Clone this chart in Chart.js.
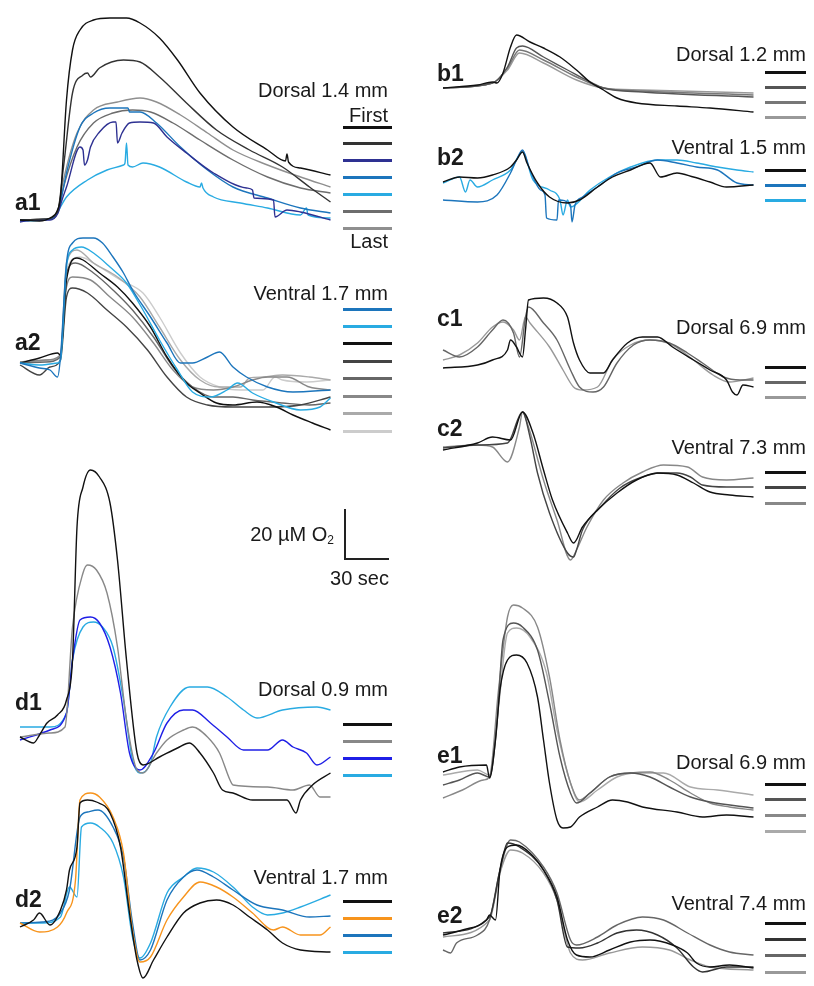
<!DOCTYPE html>
<html>
<head>
<meta charset="utf-8">
<script src="https://cdn.jsdelivr.net/npm/chart.js@4"></script>
<style>
  body { margin: 0; background: #fff; }
  #fig { position: relative; width: 814px; height: 986px; overflow: hidden; background: #fff; }
  #fig canvas { position: absolute; }
  .t { position: absolute; transform: translateY(-50%); font-family: 'Liberation Sans', Arial, sans-serif; color: #1a1a1a; white-space: nowrap; line-height: 1; }
  .t sub { font-size: 60%; vertical-align: -0.25em; }
  .k { position: absolute; height: 3px; }
  .bar { position: absolute; background: #222; }
</style>
</head>
<body>
<div id="fig"></div>
<script>
// O2 traces: [time (s), O2 change (µM)]
const PXX = 1.5   // px per second
const PXY = 2.5   // px per µM

// a1 - Dorsal 1.4 mm
const a1T1 = [[0,0],[13,-0.4],[20,0.8],[25,4],[27,9.2],[31,48],[35,68],[40,76],[49,80],[60,80.8],[71,80.8],[80,78.8],[93,72.8],[105,64],[120,50.8],[142,37.2],[165,28],[177,23.6],[178,26.4],[179,23.2],[187,20.8],[207,18]]
const a1T2 = [[0,0],[17,0.4],[25,3.2],[29,21.2],[35,50.8],[42,58],[45,58.8],[47,57.2],[53,60.8],[69,64],[80,63.2],[93,57.2],[111,46.8],[131,36],[153,28],[175,21.2],[193,13.2],[207,7.2]]
const a1T3 = [[0,-0.8],[10,0],[20,0],[25,2.4],[28,8],[31,13.2],[40,29.2],[42,28],[43,22],[45,24],[47,29.2],[53,35.2],[62,39.2],[64,39.2],[65,30.8],[68,34.8],[73,38.8],[80,39.2],[89,38.8],[98,33.2],[111,26.8],[129,18.8],[151,12.8],[155,12],[156,8.8],[169,8],[170,1.2],[178,4],[187,3.2],[207,0]]
const a1T4 = [[0,0],[20,0.4],[25,3.2],[28,10],[31,18.8],[40,37.2],[49,42.8],[60,44.8],[72,44.8],[73,43.2],[80,43.2],[91,38.8],[107,29.2],[125,20],[142,13.2],[165,8.8],[187,4.8],[207,2.8]]
const a1T5 = [[0,-0.4],[20,0.4],[25,2.8],[27,5.2],[31,9.2],[45,16],[58,20],[69,22],[70,22.8],[71,30.8],[72,22],[75,21.2],[82,22.8],[93,21.2],[111,15.2],[120,13.2],[121,14.8],[122,12.8],[129,9.2],[147,6.8],[165,4.8],[187,2],[191,4.8],[192,2],[207,0.8]]
const a1T6 = [[0,0],[20,0.4],[25,2.8],[29,13.2],[38,29.2],[49,38.8],[62,42.8],[75,44],[87,43.2],[102,38.8],[120,32],[142,24],[165,17.2],[187,12.8],[207,10.8]]
const a1T7 = [[0,0],[20,0.4],[25,3.2],[29,16],[38,34.8],[49,44],[65,47.2],[80,48.8],[91,47.2],[107,42],[125,34.8],[142,28],[165,22],[187,17.2],[207,13.2]]

// a2 - Ventral 1.7 mm
const a2T1 = [[0,0],[13,-2],[20,-2.8],[25,-5.6],[27,2.4],[31,40],[35,48],[42,50],[49,50],[55,48],[62,42.4],[69,36],[75,29.2],[87,18.4],[98,8],[107,0],[115,0],[125,2.4],[133,4.4],[142,-1.6],[151,-5.6],[165,-9.6],[182,-11.6],[207,-10.8]]
const a2T2 = [[0,0],[13,-0.8],[25,0],[27,1.2],[31,38.4],[35,45.2],[41,46.4],[49,44],[60,38.4],[71,32],[82,21.2],[93,9.2],[105,-2.8],[115,-11.6],[127,-13.6],[138,-10.8],[145,-8],[155,-12],[169,-15.6],[187,-18.8],[200,-17.6],[207,-14]]
const a2T3 = [[0,0],[13,2],[25,4],[27,3.2],[31,33.2],[38,42],[42,41.2],[53,36],[65,30.4],[75,24],[87,14.4],[98,2.4],[111,-8],[120,-12],[131,-16],[142,-16.8],[158,-15.6],[171,-17.6],[182,-20.8],[195,-24],[207,-26.8]]
const a2T4 = [[0,-0.8],[13,-4.8],[20,-1.6],[27,1.2],[31,26.4],[35,30],[45,28],[58,21.2],[71,14.4],[85,5.2],[98,-5.6],[111,-13.6],[125,-16.8],[142,-17.6],[165,-17.6],[187,-16.8],[207,-13.6]]
const a2T5 = [[0,0],[17,0.4],[27,2.4],[31,36],[37,40],[49,36],[62,29.2],[75,21.2],[89,10.4],[102,-1.6],[115,-9.6],[129,-13.6],[142,-13.6],[155,-14.8],[175,-16],[193,-16.8],[207,-16]]
const a2T6 = [[0,0.4],[17,1.2],[27,3.2],[31,30.4],[35,34.4],[47,33.2],[60,26.4],[75,18.4],[89,8],[102,-2.8],[115,-9.6],[129,-10.8],[142,-9.6],[155,-6.8],[165,-5.6],[178,-5.6],[193,-9.6],[207,-10.8]]
const a2T7 = [[0,0.4],[20,1.2],[27,3.2],[31,40],[38,45.2],[49,40],[65,34.4],[80,26.4],[93,14.4],[107,1.2],[120,-6.8],[133,-9.6],[147,-9.6],[153,-6],[162,-5.6],[175,-4.8],[193,-5.6],[207,-6.8]]
const a2T8 = [[0,0.4],[20,1.2],[27,2.8],[31,37.2],[40,42.4],[53,38.4],[67,33.2],[82,28],[93,18.4],[107,4],[120,-5.6],[133,-9.6],[147,-10.8],[162,-10.8],[170,-5.6],[175,-6.8],[191,-7.6],[207,-6.8]]

// d1 - Dorsal 0.9 mm
const d1T1 = [[0,-0.8],[9,-3.2],[13,0],[18,4.8],[25,8],[31,14],[35,30],[38,83.2],[42,99.2],[47,106],[53,103.2],[60,92.8],[65,70],[71,30],[78,-7.2],[82,-12],[93,-8.8],[105,-5.2],[113,-3.2],[120,-7.2],[129,-15.2],[135,-22],[142,-23.2],[155,-26],[178,-26],[184,-31.2],[187,-26],[195,-20],[207,-15.2]]
const d1T2 = [[0,-0.8],[20,0.8],[30,3.2],[35,43.2],[42,64.8],[45,68],[51,66],[58,56.8],[65,35.2],[71,6],[78,-14],[82,-15.2],[91,-7.2],[98,-2],[109,2],[115,3.2],[125,-0.8],[133,-7.2],[140,-18],[142,-20],[165,-20.8],[182,-22],[193,-20],[200,-24.8],[207,-24.8]]
const d1T3 = [[0,-2],[20,2],[31,8.8],[35,30],[40,46],[47,47.2],[53,44.8],[60,35.2],[67,16.8],[73,-7.2],[80,-14],[89,-7.2],[98,4.8],[109,10],[115,10],[127,4.8],[138,-0.8],[149,-6],[165,-6],[175,-2],[182,-4.8],[191,-7.2],[198,-12],[207,-8.8]]
const d1T4 = [[0,3.2],[20,3.2],[31,8.8],[35,30],[42,43.2],[49,45.2],[55,43.2],[62,35.2],[69,14],[75,-10],[80,-15.2],[87,-11.2],[91,-0.8],[100,11.2],[113,19.2],[125,19.2],[138,15.2],[149,10],[158,6.8],[175,10],[198,11.2],[207,10]]

// d2 - Ventral 1.7 mm
const d2T1 = [[0,-1.6],[9,1.2],[13,4],[20,-0.8],[27,5.2],[31,13.2],[33,21.2],[38,30.4],[40,48],[45,49.2],[51,48.4],[60,44],[67,30.4],[73,4],[78,-14.8],[82,-22],[89,-14.8],[98,-5.6],[109,4],[120,8],[131,9.2],[142,7.2],[153,2.4],[165,-2.8],[175,-8],[187,-10.8],[207,-11.6]]
const d2T2 = [[0,0],[13,-3.6],[25,-1.6],[31,4],[37,17.2],[40,49.2],[47,52],[53,50.4],[62,42.4],[69,28],[75,-2.8],[80,-15.6],[87,-13.6],[98,1.2],[109,10.4],[120,16.4],[131,14.4],[142,10.4],[155,4],[169,-2.8],[175,-1.6],[187,-4.8],[200,-4.8],[207,-1.6]]
const d2T3 = [[0,0],[15,0.4],[27,4],[33,13.2],[40,42.4],[45,44.4],[52,45.2],[62,38.4],[69,26.4],[75,0],[80,-14.8],[87,-10.8],[98,9.2],[109,18.4],[118,21.2],[129,18.4],[142,13.2],[158,7.2],[175,5.2],[193,2.4],[207,2.8]]
const d2T4 = [[0,0],[15,0],[27,2.4],[33,14.4],[38,10.4],[41,38.4],[47,40],[53,38.4],[62,32],[69,18.4],[75,-5.6],[80,-14],[87,-8],[98,12],[109,18.4],[118,22],[129,20.4],[142,14.4],[155,6.4],[165,3.2],[175,4],[187,6.4],[207,11.2]]

// b1 - Dorsal 1.2 mm
const b1T1 = [[0,0],[23,1.2],[33,2.4],[36,2],[40,6],[45,16.4],[49,21.2],[58,18.4],[67,16],[78,12.4],[89,7.2],[98,2.4],[107,-0.8],[116,-4],[129,-6],[156,-7.2],[178,-8],[207,-9.6]]
const b1T2 = [[0,0],[33,2],[43,8.4],[49,16],[53,16.8],[67,12.4],[83,7.2],[98,2.4],[107,0],[133,-1.6],[207,-3.6]]
const b1T3 = [[0,0],[33,2],[43,8],[51,15.2],[67,11.2],[89,4.4],[107,0],[133,-1.2],[207,-2.8]]
const b1T4 = [[0,0],[33,2],[43,7.2],[51,14],[67,10],[89,3.2],[107,0],[133,-0.8],[207,-2]]

// b2 - Ventral 1.5 mm
const b2T1 = [[0,0],[11,2],[23,1.6],[33,2.8],[45,6],[49,8.8],[53,12],[56,7.6],[63,-0.4],[71,-6],[83,-8.4],[91,-7.2],[103,-2],[113,2],[125,4.8],[138,7.6],[145,2],[156,3.6],[167,2],[178,0],[189,-2],[207,-1.2]]
const b2T2 = [[0,-7.2],[23,-8],[36,-5.2],[45,3.6],[49,8.8],[53,12.8],[58,4.8],[65,-3.2],[68,-5.2],[69,-14.4],[76,-15.2],[77,-7.2],[85,-9.2],[86,-16],[88,-9.2],[93,-6],[103,-2],[116,3.6],[129,6],[143,8.8],[156,7.6],[169,6],[183,4.8],[196,-0.4],[207,-1.2]]
const b2T3 = [[0,-0.4],[11,2],[15,-4],[18,0.8],[23,-2],[33,0.8],[45,4.8],[53,12],[60,0.8],[71,-3.2],[78,-7.2],[80,-13.2],[83,-7.2],[85,-10],[98,-3.2],[111,2],[125,6],[143,8.8],[156,8.8],[169,7.6],[183,6],[196,4.8],[207,4]]

// c1 - Dorsal 6.9 mm
const c1T1 = [[0,-1.2],[23,0],[33,2],[43,6],[45,10],[49,7.2],[53,3.2],[55,14],[57,26],[67,26.8],[76,24.8],[83,19.2],[87,8.8],[91,2],[98,-3.2],[107,-3.2],[113,2],[123,8.8],[133,11.2],[143,11.2],[153,7.2],[167,2],[178,-2],[189,-6],[193,-10.8],[196,-12],[200,-8],[207,-8.8]]
const c1T2 = [[0,6],[11,3.2],[23,7.2],[33,14],[40,18],[47,12.8],[51,3.2],[55,19.2],[57,23.2],[67,16.8],[76,10],[85,-2],[91,-8.8],[100,-10.8],[107,-8.8],[116,0.8],[127,8],[138,10],[151,8.8],[163,4.8],[173,0.8],[187,-4.8],[198,-6],[207,-6]]
const c1T3 = [[0,2],[11,4],[23,8.8],[33,15.2],[40,17.2],[47,14],[51,10],[55,19.2],[58,16.8],[71,7.2],[80,-2],[87,-8.8],[93,-10],[103,-8.8],[113,2],[125,8],[138,10],[153,8],[167,2],[180,-4],[191,-6.8],[207,-5.2]]

// c2 - Ventral 7.3 mm
const c2T1 = [[0,-2],[23,0.8],[33,3.2],[45,2],[53,13.2],[60,4.8],[67,-10],[73,-22],[83,-35.2],[87,-39.2],[93,-32.8],[103,-26],[116,-19.2],[129,-14],[143,-11.2],[156,-12],[167,-15.2],[178,-18.8],[191,-20],[207,-20.8]]
const c2T2 = [[0,-1.2],[23,0],[43,0.8],[53,13.2],[58,3.2],[63,-11.2],[71,-27.2],[83,-43.2],[87,-44.8],[89,-42],[93,-34],[105,-24.8],[118,-17.2],[131,-13.2],[145,-11.2],[156,-11.2],[165,-12.8],[173,-16],[189,-16.8],[207,-16.8]]
const c2T3 = [[0,-0.8],[23,0],[33,-0.8],[43,-6.8],[51,7.2],[53,13.2],[57,7.2],[67,-14],[76,-30],[85,-46],[89,-42],[96,-32.8],[107,-22],[120,-15.2],[133,-10.8],[147,-8],[163,-8.8],[173,-12.8],[189,-14],[207,-13.2]]

// e1 - Dorsal 6.9 mm
const e1T1 = [[0,1.2],[11,3.2],[29,4],[31,-1.2],[35,14],[38,34],[43,46],[49,48],[56,44.8],[63,31.2],[67,14],[71,-3.2],[76,-18],[80,-21.2],[85,-20.8],[91,-16.8],[103,-12.8],[113,-10],[123,-10.8],[133,-12.8],[156,-14.8],[173,-16.8],[189,-16],[207,-16.8]]
const e1T2 = [[0,-4],[11,-2],[23,0.8],[31,-0.8],[36,20.8],[40,54],[47,60.8],[53,59.2],[63,50],[71,28.8],[78,7.2],[85,-7.2],[89,-11.2],[98,-7.2],[111,-0.8],[125,0.8],[138,-0.8],[151,-4.8],[165,-8.8],[178,-10.8],[207,-13.2]]
const e1T3 = [[0,-9.2],[13,-6],[27,-2],[31,-0.8],[37,34],[43,63.2],[47,68],[53,66.8],[63,59.2],[71,39.2],[78,14],[85,-3.2],[91,-10],[98,-7.2],[111,-0.8],[125,0.8],[138,1.2],[151,-2],[165,-7.2],[178,-11.2],[191,-12.8],[207,-14]]
const e1T4 = [[0,0],[23,2],[31,0],[37,27.2],[43,56.8],[49,58.8],[58,55.2],[69,40.8],[76,18],[85,-3.2],[91,-10.8],[103,-6],[116,-0.8],[129,0.8],[147,0.8],[165,-4.8],[183,-6],[207,-8]]

// e2 - Ventral 7.4 mm
const e2T1 = [[0,0],[13,2],[29,6],[31,8],[35,6],[38,26],[43,35.2],[49,36],[58,32.8],[67,26],[76,15.2],[83,-2],[89,-8],[98,-8.8],[111,-6],[125,-2.8],[138,-2],[153,-4],[163,-7.2],[169,-11.2],[178,-12.8],[191,-12],[207,-13.2]]
const e2T2 = [[0,0.8],[31,7.2],[38,26],[43,36.8],[51,35.2],[67,26],[76,14],[83,-4.8],[91,-5.2],[103,-3.2],[116,0.8],[129,2],[143,0],[156,-5.2],[167,-12.8],[173,-14.8],[189,-12.8],[207,-12.8]]
const e2T3 = [[0,-6],[5,-7.2],[9,-3.2],[23,0],[31,6],[38,26],[45,38],[51,37.2],[67,27.2],[76,16.8],[85,-2],[89,-4],[103,-0.8],[116,4],[133,7.2],[147,6],[163,0.8],[178,-4],[191,-6.8],[207,-8]]
const e2T4 = [[0,-0.8],[31,6],[38,24.8],[45,34],[53,32.8],[67,24.8],[76,14],[85,-7.2],[93,-10],[111,-7.2],[133,-4.8],[151,-6],[165,-10],[178,-12.8],[207,-14]]

// panel layout (page pixels)
const LEFT = { x0: 20, nameX: 15, textRight: 388, keyX: 343, keyW: 49 }
const RIGHT = { x0: 443, nameX: 437, textRight: 806, keyX: 765, keyW: 41 }

const panels = [
  { col: LEFT, name: 'a1', nameY: 202, title: 'Dorsal 1.4 mm', titleY: 90, base: 220, top: 8, bottom: 238, keyY: [127, 228],
    traces: [[a1T1,'#111'],[a1T2,'#333'],[a1T3,'#2e3192'],[a1T4,'#1c75bc'],[a1T5,'#29abe2'],[a1T6,'#6d6d6d'],[a1T7,'#8f8f8f']] },
  { col: LEFT, name: 'a2', nameY: 342, title: 'Ventral 1.7 mm', titleY: 293, base: 363, top: 232, bottom: 440, keyY: [309, 431],
    traces: [[a2T1,'#1c75bc'],[a2T2,'#29abe2'],[a2T3,'#111'],[a2T4,'#444'],[a2T5,'#666'],[a2T6,'#888'],[a2T7,'#aaa'],[a2T8,'#ccc']] },
  { col: LEFT, name: 'd1', nameY: 702, title: 'Dorsal 0.9 mm', titleY: 689, base: 735, top: 462, bottom: 822, keyY: [724, 775],
    traces: [[d1T1,'#111'],[d1T2,'#888'],[d1T3,'#1f1fe6'],[d1T4,'#29abe2']] },
  { col: LEFT, name: 'd2', nameY: 899, title: 'Ventral 1.7 mm', titleY: 877, base: 923, top: 785, bottom: 986, keyY: [901, 952],
    traces: [[d2T1,'#111'],[d2T2,'#f7941d'],[d2T3,'#1c75bc'],[d2T4,'#29abe2']] },
  { col: RIGHT, name: 'b1', nameY: 73, title: 'Dorsal 1.2 mm', titleY: 54, base: 88, top: 25, bottom: 125, keyY: [72, 117],
    traces: [[b1T1,'#111'],[b1T2,'#555'],[b1T3,'#777'],[b1T4,'#999']] },
  { col: RIGHT, name: 'b2', nameY: 157, title: 'Ventral 1.5 mm', titleY: 147, base: 182, top: 135, bottom: 232, keyY: [170, 200],
    traces: [[b2T1,'#111'],[b2T2,'#1c75bc'],[b2T3,'#29abe2']] },
  { col: RIGHT, name: 'c1', nameY: 318, title: 'Dorsal 6.9 mm', titleY: 327, base: 365, top: 288, bottom: 402, keyY: [367, 397],
    traces: [[c1T1,'#111'],[c1T2,'#666'],[c1T3,'#999']] },
  { col: RIGHT, name: 'c2', nameY: 428, title: 'Ventral 7.3 mm', titleY: 447, base: 445, top: 404, bottom: 566, keyY: [472, 503],
    traces: [[c2T1,'#111'],[c2T2,'#444'],[c2T3,'#888']] },
  { col: RIGHT, name: 'e1', nameY: 755, title: 'Dorsal 6.9 mm', titleY: 762, base: 775, top: 596, bottom: 836, keyY: [784, 831],
    traces: [[e1T1,'#111'],[e1T2,'#555'],[e1T3,'#888'],[e1T4,'#aaa']] },
  { col: RIGHT, name: 'e2', nameY: 915, title: 'Ventral 7.4 mm', titleY: 903, base: 935, top: 836, bottom: 982, keyY: [923, 972],
    traces: [[e2T1,'#111'],[e2T2,'#333'],[e2T3,'#666'],[e2T4,'#999']] }
]

const fig = document.getElementById('fig')

function addText(html, cy, size, opts) {
  const d = document.createElement('div')
  d.className = 't'
  d.innerHTML = html
  d.style.top = cy + 'px'
  d.style.fontSize = size + 'px'
  if (opts.bold) d.style.fontWeight = 'bold'
  if (opts.right != null) d.style.right = (814 - opts.right) + 'px'
  else d.style.left = opts.left + 'px'
  fig.appendChild(d)
}

function addBox(cls, left, top, w, h, color) {
  const d = document.createElement('div')
  d.className = cls
  d.style.cssText += `left:${left}px;top:${top}px;width:${w}px;height:${h}px;` + (color ? `background:${color};` : '')
  fig.appendChild(d)
}

const PAD = 5
panels.forEach(p => {
  const W = 312 + 2 * PAD
  const H = p.bottom - p.top
  const canvas = document.createElement('canvas')
  canvas.width = W
  canvas.height = H
  canvas.style.left = (p.col.x0 - PAD) + 'px'
  canvas.style.top = p.top + 'px'
  fig.appendChild(canvas)

  new Chart(canvas.getContext('2d'), {
    type: 'line',
    data: {
      datasets: p.traces.map(([pts, color]) => ({
        data: pts.map(([t, v]) => ({ x: t, y: v })),
        borderColor: color,
        borderWidth: 1.4,
        pointRadius: 0,
        fill: false,
        cubicInterpolationMode: 'monotone'
      }))
    },
    options: {
      responsive: false,
      animation: false,
      events: [],
      layout: { padding: 0 },
      plugins: { legend: { display: false }, tooltip: { enabled: false } },
      scales: {
        x: { type: 'linear', display: false, min: -PAD / PXX, max: (W - PAD) / PXX },
        y: { display: false, min: (p.base - p.bottom) / PXY, max: (p.base - p.top) / PXY }
      }
    }
  })

  addText(p.name, p.nameY, 23, { left: p.col.nameX, bold: true })
  addText(p.title, p.titleY, 20, { right: p.col.textRight })
  const n = p.traces.length
  const [y0, y1] = p.keyY
  p.traces.forEach(([, color], i) => {
    const y = y0 + (y1 - y0) * i / (n - 1)
    addBox('k', p.col.keyX, Math.round(y - 1.5), p.col.keyW, 3, color)
  })
})

addText('First', 115, 20, { right: LEFT.textRight })
addText('Last', 241, 20, { right: LEFT.textRight })

// scale bar: 20 µM by 30 s
const barX = 345, barY = 559
addBox('bar', barX - 1, barY - 20 * PXY, 1.5, 20 * PXY)
addBox('bar', barX - 1, barY - 1, 30 * PXX, 1.5)
addText('20 µM O<sub>2</sub>', 535, 20, { right: 334 })
addText('30 sec', 578, 20, { right: 389 })
</script>
</body>
</html>
